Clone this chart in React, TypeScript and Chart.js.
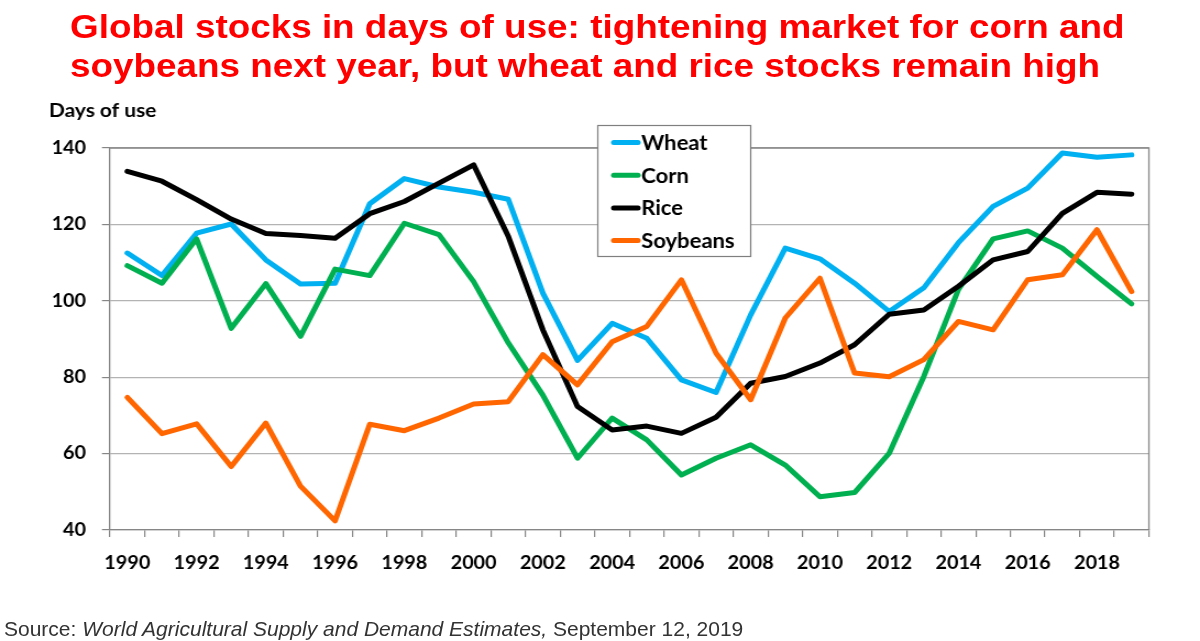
import React, { useEffect, useRef } from "react";
import { Chart, registerables } from "chart.js";

Chart.register(...registerables);

const years = [
  "1990", "1991", "1992", "1993", "1994", "1995", "1996", "1997", "1998", "1999",
  "2000", "2001", "2002", "2003", "2004", "2005", "2006", "2007", "2008", "2009",
  "2010", "2011", "2012", "2013", "2014", "2015", "2016", "2017", "2018", "2019",
];

const wheat = [
  112.5, 106.6, 117.7, 120.1, 110.7, 104.4, 104.6, 125.4, 132.0, 129.8,
  128.4, 126.6, 102.0, 84.4, 94.1, 90.2, 79.3, 76.0, 96.3, 113.8,
  111.0, 104.6, 97.2, 103.4, 115.2, 124.7, 129.5, 138.7, 137.6, 138.2,
];

const corn = [
  109.2, 104.6, 116.2, 92.8, 104.5, 90.7, 108.3, 106.6, 120.3, 117.3,
  105.0, 89.0, 75.3, 58.8, 69.3, 63.6, 54.4, 58.8, 62.3, 57.0,
  48.7, 49.8, 60.1, 80.2, 103.0, 116.2, 118.3, 113.8, 106.4, 99.2,
];

const rice = [
  133.9, 131.3, 126.5, 121.4, 117.6, 117.1, 116.4, 122.8, 126.0, 130.8,
  135.6, 116.9, 92.4, 72.3, 66.2, 67.2, 65.3, 69.5, 78.4, 80.2,
  83.7, 88.5, 96.5, 97.6, 103.8, 110.7, 112.9, 122.9, 128.4, 127.9,
];

const soybeans = [
  74.7, 65.2, 67.8, 56.6, 68.0, 51.5, 42.4, 67.7, 66.0, 69.3,
  73.0, 73.6, 85.9, 78.0, 89.3, 93.3, 105.5, 86.3, 74.1, 95.5,
  105.9, 81.1, 80.1, 84.6, 94.6, 92.4, 105.5, 106.8, 118.6, 102.4,
];

const seriesNames = ["Wheat", "Corn", "Rice", "Soybeans"];
const seriesColors = ["#00b0f0", "#00b050", "#000000", "#ff6600"];
const yMin = 40;
const yMax = 140;
const yStep = 20;
const yAxisTitle = "Days of use";
const titleLines = [
  "Global stocks in days of use: tightening market for corn and",
  "soybeans next year, but wheat and rice stocks remain high",
];

// horizontal stretch of the original picture
const S = 1.1;
const CW = Math.round(1200 / S);
const CH = 641;

const TICK_FONT = { family: "Lato, 'Noto Sans', sans-serif", weight: "bold" as const, size: 18 };

export default function App() {
  const canvasRef = useRef<HTMLCanvasElement | null>(null);

  useEffect(() => {
    document.body.style.margin = "0";
    const canvas = canvasRef.current;
    if (!canvas) return;

    const framePlugin = {
      id: "frame",
      beforeDatasetsDraw(chart: any) {
        const { ctx, chartArea } = chart;
        ctx.save();
        ctx.strokeStyle = "#868686";
        ctx.lineWidth = 1.3;
        ctx.beginPath();
        ctx.moveTo(chartArea.left, chartArea.top);
        ctx.lineTo(chartArea.right, chartArea.top);
        ctx.lineTo(chartArea.right, chartArea.bottom);
        ctx.stroke();
        ctx.restore();
      },
      afterDraw(chart: any) {
        const { ctx } = chart;
        ctx.save();
        // y-axis title
        ctx.fillStyle = "#000";
        ctx.font = "bold 19px Lato, 'Noto Sans', sans-serif";
        ctx.textAlign = "left";
        ctx.textBaseline = "alphabetic";
        ctx.fillText(yAxisTitle, 44.5, 117);

        // legend box
        const bx = 543.5, by = 125.5, bw = 139, bh = 131;
        ctx.fillStyle = "#ffffff";
        ctx.fillRect(bx, by, bw, bh);
        ctx.strokeStyle = "#7f7f7f";
        ctx.lineWidth = 1.2;
        ctx.strokeRect(bx, by, bw, bh);
        ctx.font = "bold 20px Lato, 'Noto Sans', sans-serif";
        ctx.textBaseline = "middle";
        chart.data.datasets.forEach((ds: any, i: number) => {
          const y = 142.5 + i * 32.7;
          ctx.strokeStyle = ds.borderColor;
          ctx.lineWidth = 5;
          ctx.lineCap = "round";
          ctx.beginPath();
          ctx.moveTo(558, y);
          ctx.lineTo(580, y);
          ctx.stroke();
          ctx.fillStyle = "#000";
          ctx.fillText(ds.label, 583, y + 1);
        });
        ctx.restore();
      },
    };

    const seriesData = [wheat, corn, rice, soybeans];
    const chart = new Chart(canvas, {
      type: "line",
      data: {
        labels: years,
        datasets: seriesData.map((d, i) => ({
          label: seriesNames[i],
          data: d,
          borderColor: seriesColors[i],
          backgroundColor: seriesColors[i],
          borderWidth: 5,
          pointRadius: 0,
          pointHoverRadius: 0,
          tension: 0,
          fill: false,
          borderCapStyle: "round",
          borderJoinStyle: "round",
          order: 4 - i,
        })),
      },
      options: {
        animation: false,
        responsive: false,
        maintainAspectRatio: false,
        devicePixelRatio: 1,
        events: [],
        layout: { padding: { left: 0, right: CW - 1149 / S, top: 148, bottom: 0 } },
        plugins: {
          legend: { display: false },
          title: { display: false },
          tooltip: { enabled: false },
        },
        scales: {
          x: {
            type: "category",
            offset: true,
            grid: {
              offset: true,
              drawOnChartArea: false,
              drawTicks: true,
              tickLength: 7,
              color: "#868686",
              lineWidth: 1.2,
            },
            border: { display: true, color: "#868686", width: 1.3 },
            ticks: {
              autoSkip: false,
              maxRotation: 0,
              minRotation: 0,
              padding: 15,
              color: "#000",
              font: TICK_FONT,
              callback: (_v: any, i: number) => (i % 2 === 0 ? years[i] : ""),
            },
            afterFit: (s: any) => {
              s.height = CH - 530;
            },
          },
          y: {
            min: yMin,
            max: yMax,
            grid: {
              color: "#b3b3b3",
              tickColor: "#868686",
              tickLength: 7.3,
              lineWidth: 1.2,
            },
            border: { display: true, color: "#868686", width: 1.3 },
            ticks: {
              stepSize: yStep,
              padding: 14.5,
              color: "#000",
              font: TICK_FONT,
            },
            afterFit: (s: any) => {
              s.width = 110 / S;
            },
          },
        },
      },
      plugins: [framePlugin],
    });

    return () => chart.destroy();
  }, []);

  return (
    <div style={{ position: "relative", width: 1200, height: 641, overflow: "hidden", background: "#fff" }}>
      <canvas
        ref={canvasRef}
        width={CW}
        height={CH}
        style={{ position: "absolute", left: 0, top: 0, width: "1200px", height: "641px" }}
      />
      <div
        style={{
          position: "absolute",
          left: 70,
          top: 8,
          fontFamily: "'Liberation Sans', Arial, sans-serif",
          fontWeight: "bold",
          fontSize: 33.5,
          lineHeight: "38.5px",
          color: "#ff0000",
          whiteSpace: "nowrap",
          transform: `scaleX(${S})`,
          transformOrigin: "left top",
        }}
      >
        {titleLines.map((t, i) => (
          <div key={i}>{t}</div>
        ))}
      </div>
      <div
        style={{
          position: "absolute",
          left: 4,
          top: 617.7,
          fontFamily: "'Liberation Sans', Arial, sans-serif",
          fontSize: 21,
          lineHeight: "21px",
          color: "#333333",
          whiteSpace: "nowrap",
        }}
      >
        Source: <i>World Agricultural Supply and Demand Estimates,</i> September 12, 2019
      </div>
    </div>
  );
}
